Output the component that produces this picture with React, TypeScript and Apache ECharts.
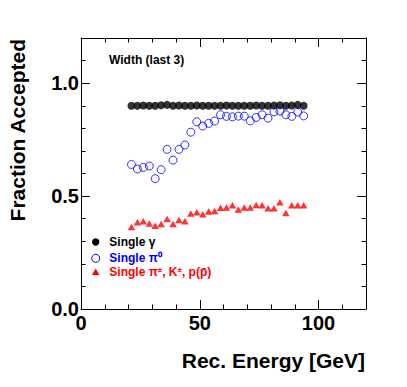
import React, { useEffect, useRef } from "react";
import * as echarts from "echarts";

const energies = [21.25, 23.75, 26.25, 28.75, 31.25, 33.75, 36.25, 38.75, 41.25, 43.75, 46.25, 48.75, 51.25, 53.75, 56.25, 58.75, 61.25, 63.75, 66.25, 68.75, 71.25, 73.75, 76.25, 78.75, 81.25, 83.75, 86.25, 88.75, 91.25, 93.75];
const gammaFrac = [0.900, 0.900, 0.901, 0.900, 0.900, 0.902, 0.904, 0.900, 0.901, 0.900, 0.900, 0.901, 0.900, 0.900, 0.900, 0.900, 0.901, 0.900, 0.900, 0.900, 0.900, 0.901, 0.900, 0.900, 0.901, 0.902, 0.900, 0.901, 0.904, 0.900];
const pi0Frac = [0.640, 0.620, 0.627, 0.633, 0.577, 0.617, 0.707, 0.659, 0.707, 0.726, 0.783, 0.829, 0.810, 0.822, 0.832, 0.860, 0.853, 0.851, 0.854, 0.854, 0.833, 0.848, 0.860, 0.845, 0.873, 0.876, 0.860, 0.853, 0.872, 0.855];
const hadronFrac = [0.363, 0.384, 0.389, 0.379, 0.369, 0.376, 0.398, 0.376, 0.394, 0.389, 0.423, 0.428, 0.420, 0.432, 0.434, 0.448, 0.450, 0.459, 0.441, 0.450, 0.450, 0.460, 0.459, 0.446, 0.446, 0.473, 0.425, 0.459, 0.459, 0.459];
const seriesNames = ["Single γ", "Single π⁰", "Single π±, K±, p(p̄)"];
const xTitle = "Rec. Energy [GeV]";
const yTitle = "Fraction Accepted";
const annotation = "Width (last 3)";

const FONT = '"Liberation Sans", Arial, Helvetica, sans-serif';

function pairs(xs: number[], ys: number[]) {
  return xs.map((x, i) => [x, ys[i]]);
}

export default function App() {
  const ref = useRef<HTMLDivElement>(null);
  useEffect(() => {
    if (!ref.current) return;
    const chart = echarts.init(ref.current, undefined, { renderer: "svg" });
    const line = { show: true, onZero: false, lineStyle: { color: "#000", width: 1 } };
    const noLine = { show: false, onZero: false };
    const majorTick = { show: true, inside: true, length: 9, lineStyle: { color: "#000", width: 1 } };
    const minorTick = { show: true, inside: true, length: 4.5, lineStyle: { color: "#000", width: 1 } };
    const noLabel = { show: false };
    const xBase = { type: "value", min: 0, max: 120, splitLine: { show: false } };
    const yBase = { type: "value", min: 0, max: 1.2, splitLine: { show: false } };
    const option: any = {
      animation: false,
      backgroundColor: "#fff",
      grid: { left: 81, right: 41, top: 38, bottom: 78, containLabel: false },
      xAxis: [
        {
          ...xBase, position: "bottom", interval: 50, axisLine: line, axisTick: majorTick,
          axisLabel: {
            show: true, showMaxLabel: false, margin: 4, color: "#000", fontSize: 20, fontWeight: "bold", fontFamily: FONT,
            formatter: (v: number) => (v > 110 ? "" : String(v)),
          },
        },
        { ...xBase, position: "bottom", interval: 10, axisLine: noLine, axisTick: minorTick, axisLabel: noLabel },
        { ...xBase, position: "top", interval: 50, axisLine: line, axisTick: majorTick, axisLabel: noLabel },
        { ...xBase, position: "top", interval: 10, axisLine: noLine, axisTick: minorTick, axisLabel: noLabel },
      ],
      yAxis: [
        {
          ...yBase, position: "left", interval: 0.5, axisLine: line, axisTick: majorTick,
          axisLabel: {
            show: true, showMaxLabel: false, margin: 2, color: "#000", fontSize: 20, fontWeight: "bold", fontFamily: FONT,
            formatter: (v: number) => (v > 1.1 ? "" : v.toFixed(1)),
          },
        },
        { ...yBase, position: "left", interval: 0.1, axisLine: noLine, axisTick: minorTick, axisLabel: noLabel },
        { ...yBase, position: "right", interval: 0.5, axisLine: line, axisTick: majorTick, axisLabel: noLabel },
        { ...yBase, position: "right", interval: 0.1, axisLine: noLine, axisTick: minorTick, axisLabel: noLabel },
      ],
      series: [
        {
          name: seriesNames[0], type: "scatter", xAxisIndex: 0, yAxisIndex: 0,
          symbol: "circle", symbolSize: 8,
          itemStyle: { color: "#000" },
          data: pairs(energies, gammaFrac),
        },
        {
          name: seriesNames[1], type: "scatter", xAxisIndex: 0, yAxisIndex: 0,
          symbol: "circle", symbolSize: 8,
          itemStyle: { color: "rgba(0,0,0,0)", borderColor: "#0000ff", borderWidth: 1 },
          data: pairs(energies, pi0Frac),
        },
        {
          name: seriesNames[2], type: "scatter", xAxisIndex: 0, yAxisIndex: 0,
          symbol: "triangle", symbolSize: [7.5, 6.5],
          itemStyle: { color: "#ff0000" },
          data: pairs(energies, hadronFrac),
        },
      ],
      graphic: [
        {
          type: "text", x: 17, y: 39, rotation: Math.PI / 2,
          style: { text: yTitle, font: `bold 21px ${FONT}`, fill: "#000", textAlign: "right", textVerticalAlign: "middle", align: "right", verticalAlign: "middle" },
        },
        {
          type: "text", x: 365, y: 360,
          style: { text: xTitle, font: `bold 21px ${FONT}`, fill: "#000", textAlign: "right", textVerticalAlign: "middle", align: "right", verticalAlign: "middle" },
        },
        {
          type: "text", x: 109, y: 60,
          style: { text: annotation, font: `bold 12px ${FONT}`, fill: "#000", textAlign: "left", textVerticalAlign: "middle", align: "left", verticalAlign: "middle" },
        },
        { type: "circle", shape: { cx: 95.7, cy: 242, r: 3.7 }, style: { fill: "#000" } },
        { type: "circle", shape: { cx: 95.7, cy: 258.3, r: 4 }, style: { fill: "none", stroke: "#0000ff", lineWidth: 1 } },
        { type: "polygon", shape: { points: [[92, 275], [99.4, 275], [95.7, 268.5]] }, style: { fill: "#ff0000" } },
        {
          type: "text", x: 109.3, y: 242,
          style: { text: seriesNames[0], font: `bold 12px ${FONT}`, fill: "#000", textAlign: "left", textVerticalAlign: "middle", align: "left", verticalAlign: "middle" },
        },
        {
          type: "text", x: 109.3, y: 258.3,
          style: { text: seriesNames[1], font: `bold 12px ${FONT}`, fill: "#0000ff", textAlign: "left", textVerticalAlign: "middle", align: "left", verticalAlign: "middle" },
        },
        {
          type: "text", x: 109.3, y: 272,
          style: {
            text: "{n|Single π}{s|±}{n|, K}{s|±}{n|, p(p̄)}",
            fill: "#ff0000", textAlign: "left", textVerticalAlign: "middle", align: "left", verticalAlign: "middle",
            rich: {
              n: { fontFamily: FONT, fontWeight: "bold", fontSize: 12, color: "#ff0000", lineHeight: 14 },
              s: { fontFamily: FONT, fontWeight: "bold", fontSize: 8, color: "#ff0000", verticalAlign: "top", lineHeight: 9 },
            },
          },
        },
      ],
    };
    chart.setOption(option);
    return () => chart.dispose();
  }, []);
  return (
    <div
      ref={ref}
      style={{ position: "absolute", left: 0, top: 0, width: 407, height: 387, background: "#fff" }}
    />
  );
}
